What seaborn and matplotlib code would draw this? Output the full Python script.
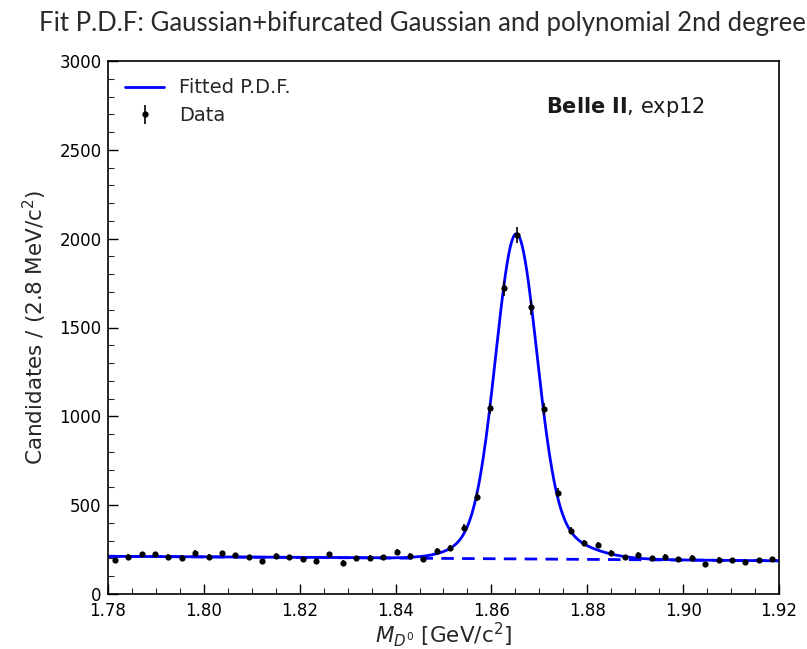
import numpy as np
import pandas as pd
import matplotlib
matplotlib.use("Agg")
import matplotlib.pyplot as plt
import seaborn as sns
from matplotlib.lines import Line2D

# ---- data ----
bin_width = 0.0028
x_lo, x_hi = 1.78, 1.92
bin_centers = x_lo + bin_width * (np.arange(50) + 0.5)
counts = [191, 210, 223, 223, 210, 204, 232, 210, 229, 218,
          206, 186, 214, 206, 195, 187, 223, 176, 201, 203,
          206, 238, 216, 195, 242, 257, 373, 548, 1045, 1720,
          2020, 1613, 1041, 570, 356, 285, 276, 232, 206, 219,
          201, 208, 195, 203, 169, 193, 191, 178, 191, 195]

# fitted model parameters (Gaussian + bifurcated Gaussian + 2nd degree poly)
mean = 1.8652
core_amp, core_sigma = 1610.0, 0.0042
bif_amp, bif_sigma_l, bif_sigma_r = 220.0, 0.0080, 0.0100
bkg_c0, bkg_c1, bkg_c2 = 200.5, -180.0, -200.0   # around x = 1.85

xs = np.linspace(x_lo, x_hi, 800)
bkg = bkg_c0 + bkg_c1 * (xs - 1.85) + bkg_c2 * (xs - 1.85) ** 2
core = core_amp * np.exp(-0.5 * ((xs - mean) / core_sigma) ** 2)
sig_b = np.where(xs < mean, bif_sigma_l, bif_sigma_r)
bif = bif_amp * np.exp(-0.5 * ((xs - mean) / sig_b) ** 2)
total = bkg + core + bif

df_data = pd.DataFrame({"x": bin_centers, "y": counts})
df_fit = pd.DataFrame({"x": xs, "y": total})
df_bkg = pd.DataFrame({"x": xs, "y": bkg})

sns.set_style("white")
plt.rcParams["font.family"] = ["DejaVu Sans"]

fig = plt.figure(figsize=(8.07, 6.49), dpi=100)
ax = fig.add_axes([108 / 807, 55 / 649, 671 / 807, 533 / 649])

sns.lineplot(data=df_fit, x="x", y="y", ax=ax, color="blue", lw=2.0)
sns.lineplot(data=df_bkg, x="x", y="y", ax=ax, color="blue", lw=2.0,
             linestyle=(0, (4.5, 3)))
ax.errorbar(df_data["x"], df_data["y"], yerr=np.sqrt(df_data["y"]),
            fmt="none", ecolor="black", elinewidth=1.2, zorder=4)
sns.scatterplot(data=df_data, x="x", y="y", ax=ax, color="black", s=20,
                edgecolor="black", linewidth=0, zorder=5)

ax.set_xlim(x_lo, x_hi)
ax.set_ylim(0, 3000)
ax.set_xticks(np.arange(1.78, 1.9201, 0.02))
ax.set_xticklabels([f"{v:.2f}" for v in np.arange(1.78, 1.9201, 0.02)])
ax.set_xticks(np.arange(1.78, 1.9201, 0.005), minor=True)
ax.set_yticks(np.arange(0, 3001, 500))
ax.set_yticks(np.arange(0, 3001, 100), minor=True)
ax.tick_params(axis="both", which="major", direction="in", length=7, width=1,
               labelsize=12, colors="black")
ax.tick_params(axis="x", which="major", pad=6)
ax.tick_params(axis="y", which="major", pad=4.5)
ax.tick_params(axis="both", which="minor", direction="in", length=4, width=0.8)
ax.tick_params(bottom=True, left=True, which="both")
for s in ax.spines.values():
    s.set_color("black")
    s.set_linewidth(1.2)

ax.set_xlabel(r"$M_{D^0}$ [GeV/c$^2$]", fontsize=15.5, labelpad=0)
ax.set_ylabel(r"Candidates / (2.8 MeV/c$^2$)", fontsize=15.5, labelpad=8)

fig.text(0.523, 0.964, "Fit P.D.F: Gaussian+bifurcated Gaussian and polynomial 2nd degree",
         ha="center", va="center", fontsize=18.5, family=["Lato", "DejaVu Sans"],
         color="#2a2a2a")

ax.text(0.653, 0.913, r"$\mathbf{Belle\ II}$, exp12", transform=ax.transAxes,
        fontsize=15, ha="left", va="center", color="#1a1a1a")

h_fit = Line2D([0], [0], color="blue", lw=2)
h_dat = ax.errorbar([], [], yerr=[], fmt="o", color="black", markersize=3.5,
                    elinewidth=1.2)
ax.legend([h_fit, h_dat], ["Fitted P.D.F.", "Data"], loc="upper left",
          frameon=False, fontsize=14, handlelength=2.0, handletextpad=0.75,
          labelspacing=0.45, bbox_to_anchor=(0.0, 1.0), borderaxespad=0.5)

fig.savefig("out.png", dpi=100)
